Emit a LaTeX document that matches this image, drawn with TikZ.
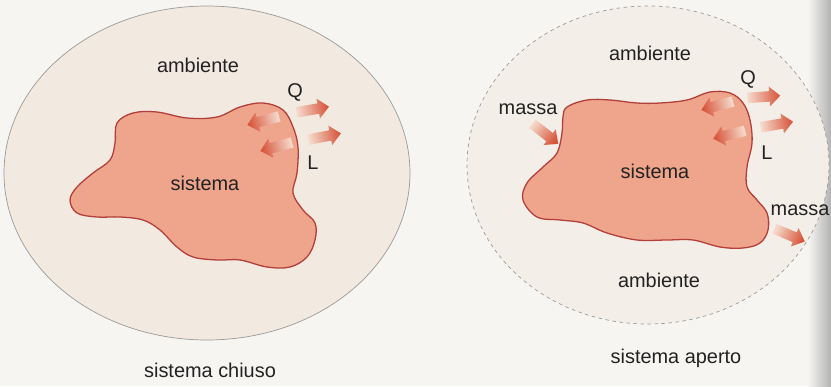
\documentclass[tikz,border=0pt]{standalone}
\usepackage{fontspec}
\setmainfont{Liberation Sans}
\usetikzlibrary{shapes.arrows,shapes.geometric}
\definecolor{paper}{HTML}{F7F5F2}
\definecolor{envfill}{HTML}{F2E9E1}
\definecolor{envfillb}{HTML}{F4EEE8}
\definecolor{envline}{HTML}{9C9A98}
\definecolor{sysfill}{HTML}{EFA48C}
\definecolor{sysline}{HTML}{B23F3A}
\definecolor{arrowlight}{HTML}{F6D9CB}
\definecolor{arrowdark}{HTML}{D6553B}
\definecolor{ink}{HTML}{222222}
\tikzset{
  lbl/.style={inner sep=0pt, text=ink, font=\fontsize{17}{20}\selectfont},
  flow/.style={single arrow, draw=none, inner sep=4.3pt, minimum height=28pt,
    single arrow head extend=4pt, single arrow tip angle=85,
    left color=arrowlight, right color=arrowdark,
    rotate=#1, shading angle=90+#1},
  sysshape/.style={fill=sysfill, draw=sysline, line width=1.1pt},
}
\begin{document}
\begin{tikzpicture}[x=0.03cm,y=-0.03cm]
\useasboundingbox (0,0) rectangle (831,386);
\fill[paper] (0,0) rectangle (831,386);
\shade[left color=paper, right color=black!30] (808,0) rectangle (831,386);

% ---- sistema chiuso ----
\node[ellipse, minimum width=406*0.03cm, minimum height=334*0.03cm, inner sep=0pt,
  fill=envfill, draw=envline, line width=0.6pt] (envL) at (207,173) {};
\draw[sysshape] plot[smooth cycle, tension=0.6] coordinates {
 (117,123) (133,113) (157,112) (187,118) (217,117) (240,107) (263,103) (283,110)
 (293,127) (298,147) (297,173) (293,193) (303,210) (315,223) (315,240) (307,257)
 (290,267) (267,267) (240,260) (217,260) (193,257) (177,247) (160,230) (143,220)
 (120,217) (97,217) (77,213) (70,200) (77,187) (93,173) (110,160) (115,143)};
\node[lbl] (ambL) at (198,65) {ambiente};
\node[lbl] (sysL) at (205,183) {sistema};
\node[lbl] (QL) at (295,92) {Q};
\node[lbl] (LL) at (313,163) {L};
\node[lbl] (capL) at (210,370) {sistema chiuso};
\node[flow=195] (aLin1) at (266,120) {};
\node[flow=195] (aLin2) at (279,146) {};
\node[flow=10] (aLQ) at (310,110) {};
\node[flow=11] (aLL) at (322,137) {};

% ---- sistema aperto ----
\node[ellipse, minimum width=362*0.03cm, minimum height=318*0.03cm, inner sep=0pt,
  fill=envfillb, draw=envline, line width=0.6pt, dashed] (envR) at (648,165) {};
\draw[sysshape] plot[smooth cycle, tension=0.6] coordinates {
 (567,107) (587,100) (610,100) (637,103) (660,103) (687,100) (710,92) (730,93)
 (743,103) (750,120) (752,143) (747,167) (747,187) (757,200) (767,213) (768,230)
 (760,243) (743,248) (720,247) (693,240) (667,240) (637,240) (607,233) (583,223)
 (560,220) (537,217) (523,200) (527,183) (543,167) (557,153) (562,133) (563,117)};
\node[lbl] (ambR1) at (650,53) {ambiente};
\node[lbl] (massaR1) at (528,109) {massa};
\node[lbl] (sysR) at (655,171) {sistema};
\node[lbl] (QR) at (748,79) {Q};
\node[lbl] (LR) at (767,153) {L};
\node[lbl] (massaR2) at (800,210) {massa};
\node[lbl] (ambR2) at (659,280) {ambiente};
\node[lbl] (capR) at (676,358) {sistema aperto};
\node[flow=-38] (aMin) at (543,132) {};
\node[flow=195] (aRin1) at (720,105) {};
\node[flow=194] (aRin2) at (732,134) {};
\node[flow=4] (aRQ) at (761,97) {};
\node[flow=10] (aRL) at (774,125) {};
\node[flow=-23] (aMout) at (787,234) {};
\end{tikzpicture}
\end{document}
